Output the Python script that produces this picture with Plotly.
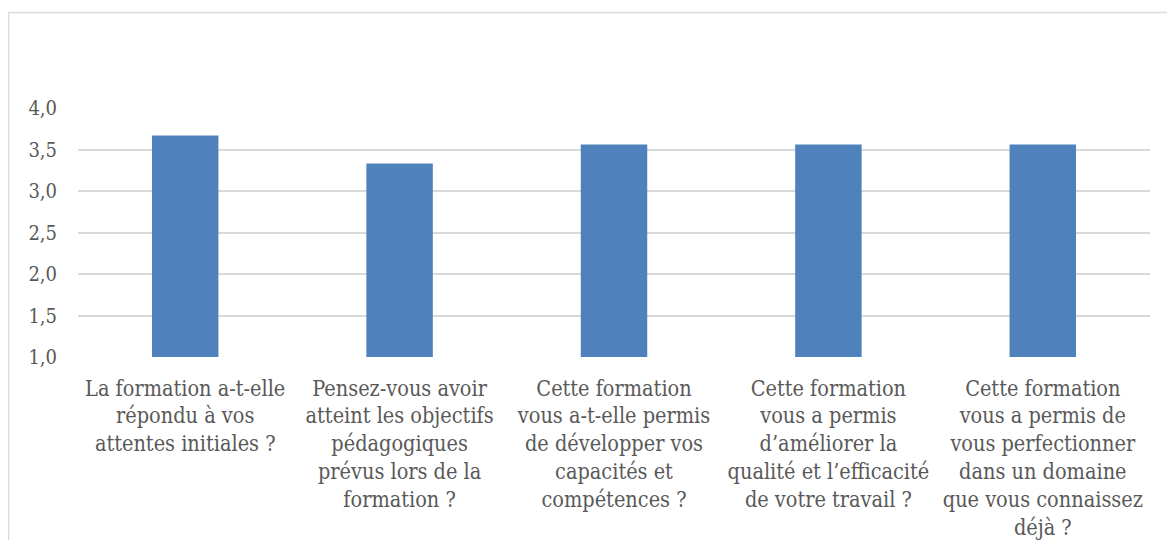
import plotly.graph_objects as go

categories = [
    "La formation a-t-elle<br>répondu à vos<br>attentes initiales ?",
    "Pensez-vous avoir<br>atteint les objectifs<br>pédagogiques<br>prévus lors de la<br>formation ?",
    "Cette formation<br>vous a-t-elle permis<br>de développer vos<br>capacités et<br>compétences ?",
    "Cette formation<br>vous a permis<br>d’améliorer la<br>qualité et l’efficacité<br>de votre travail ?",
    "Cette formation<br>vous a permis de<br>vous perfectionner<br>dans un domaine<br>que vous connaissez<br>déjà ?",
]
values = [3.67, 3.33, 3.56, 3.56, 3.56]
y_ticks = [1.0, 1.5, 2.0, 2.5, 3.0, 3.5, 4.0]
axis_min = 1.0

FONT = "DejaVu Serif Condensed, DejaVu Serif"
GRAY = "#595959"

fig = go.Figure(
    go.Bar(
        x=categories,
        y=[v - axis_min for v in values],
        base=axis_min,
        marker=dict(color="#4F81BD", line=dict(width=0)),
        hovertext=[f"{v:.2f}" for v in values],
    )
)

# the page body has an 8px margin on every side, so the figure fills the window minus 16px
W, H = 1159, 532
ml, mr, mt, mb = 70, 17, 100, 183
pw = W - ml - mr
ph = H - mt - mb

def px_to_paper_x(px):
    return (px - ml) / pw

def px_to_paper_y(py):
    return (H - mb - py) / ph

fig.update_layout(
    width=W,
    height=H,
    margin=dict(l=ml, r=mr, t=mt, b=mb, autoexpand=False),
    paper_bgcolor="white",
    plot_bgcolor="white",
    bargap=0.69,
    separators=", ",
    showlegend=False,
    font=dict(family=FONT, color=GRAY, size=20),
    xaxis=dict(
        showgrid=False,
        showline=False,
        ticks="",
        automargin=False,
        tickfont=dict(family=FONT, size=21.5, color=GRAY),
        ticklabelstandoff=16,
    ),
    yaxis=dict(
        range=[1.0, 4.0],
        tickvals=y_ticks,
        tickformat=".1f",
        showgrid=True,
        gridcolor="#D9D9D9",
        gridwidth=1.5,
        zeroline=False,
        showline=False,
        ticks="",
        automargin=False,
        tickfont=dict(family=FONT, size=20, color=GRAY),
        ticklabelstandoff=20,
    ),
    shapes=[
        dict(
            type="rect",
            xref="paper",
            yref="paper",
            x0=px_to_paper_x(0.5),
            x1=px_to_paper_x(1200),
            y0=px_to_paper_y(600),
            y1=px_to_paper_y(4.5),
            line=dict(color="#D9D9D9", width=1.5),
            fillcolor="rgba(0,0,0,0)",
            layer="below",
        )
    ],
)

fig.write_html("out.html")
